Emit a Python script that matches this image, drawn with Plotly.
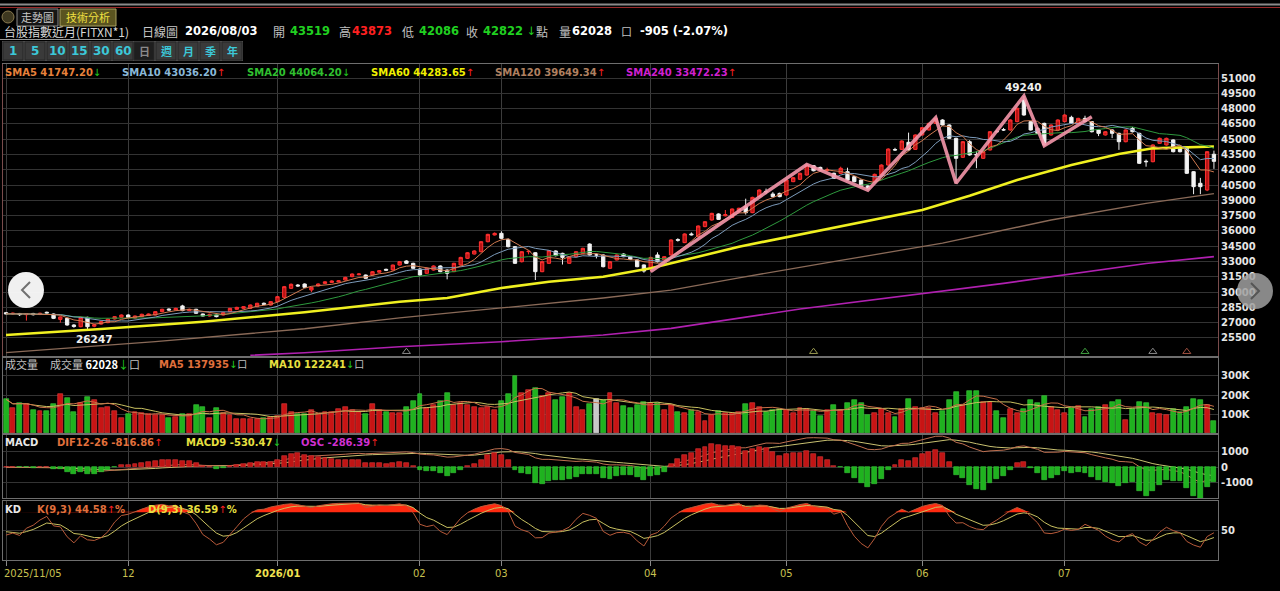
import numpy as np
import pandas as pd
import plotly.graph_objects as go

# 台股指數近月 日線 2025/11/05 ~ 2026/08/03
opens = [
    27980, 27850, 27900, 27780, 27900, 27800, 28020, 27850, 27320, 27420,
    26770, 26600, 27520, 26650, 26860, 27000, 27360, 27520, 27750, 27450,
    27590, 27700, 27750, 28080, 28340, 28240, 28640, 28180, 28310, 27850,
    27650, 27750, 27750, 28080, 28310, 28400, 28400, 28570, 28900, 28730,
    29060, 29480, 30370, 30690, 30790, 30200, 30600, 30850, 30950, 31000,
    31180, 31510, 31700, 31670, 31670, 31950, 32230, 32170, 32650, 33050,
    32820, 32260, 31840, 32160, 32560, 32160, 32000, 32660, 33310, 33730,
    33960, 34940, 35600, 35760, 35170, 34450, 32980, 33960, 33860, 32000,
    32820, 34030, 33800, 32820, 33470, 33800, 34710, 33640, 33640, 32330,
    33150, 33730, 33470, 33150, 32660, 32330, 33640, 33150, 33640, 35150,
    34850, 35700, 35440, 36420, 37070, 37660, 37480, 37330, 37920, 38380,
    37790, 39360, 39880, 39620, 39680, 39520, 40830, 41060, 41480, 42400,
    42230, 41930, 41650, 41650, 41810, 41320, 40990, 40410, 40830, 41480,
    42460, 43980, 44000, 44690, 44000, 45410, 45900, 46550, 46880, 46390,
    45080, 43220, 44750, 43500, 43120, 43940, 45760, 45930, 45900, 46720,
    48840, 46720, 46060, 46550, 45410, 45900, 46720, 47140, 46550, 47040,
    46720, 45900, 45410, 45900, 45570, 44750, 46060, 45570, 42830, 42790,
    44590, 44430, 44920, 44100, 44100, 41810, 40670, 40010, 43519,
]
highs = [
    28050, 27990, 27950, 27920, 27960, 27980, 28080, 27900, 27620, 27480,
    26850, 27600, 27580, 26900, 27160, 27400, 27640, 27800, 27820, 27700,
    27880, 27900, 28120, 28360, 28400, 28460, 28750, 28380, 28360, 27900,
    27880, 27800, 28030, 28450, 28560, 28620, 28780, 28950, 28980, 29120,
    29620, 30600, 30850, 30780, 30850, 30520, 30850, 31060, 31150, 31160,
    31500, 31830, 31850, 31720, 32060, 32160, 32300, 32700, 33050, 33120,
    32880, 32320, 32400, 32620, 32620, 32220, 32880, 33460, 33920, 34100,
    35000, 35720, 35850, 35960, 35250, 34520, 34020, 34080, 33920, 33050,
    34120, 34100, 33860, 33460, 34020, 34350, 34780, 33800, 33700, 33050,
    33700, 33800, 33520, 33200, 32720, 33460, 33900, 33520, 35180, 35280,
    35760, 35850, 36540, 36960, 37780, 37720, 38050, 38200, 38280, 39160,
    39350, 40080, 40150, 39800, 39750, 41060, 41300, 41720, 42520, 42460,
    42300, 42200, 41720, 42300, 42200, 41380, 41050, 40480, 41620, 42530,
    44100, 44150, 44880, 45640, 45470, 46200, 46620, 47100, 46950, 46450,
    45140, 44820, 44900, 43800, 43840, 45800, 45900, 46100, 46950, 48100,
    49240, 46780, 46200, 46620, 46450, 46950, 47440, 47300, 47100, 47300,
    46780, 45960, 45800, 45960, 45630, 45960, 46200, 45630, 43000, 44500,
    45150, 45150, 44980, 44160, 44160, 41870, 41200, 43830, 43873,
]
lows = [
    27800, 27780, 27650, 27200, 27700, 27740, 27880, 27350, 27000, 26700,
    26500, 26550, 26247, 26550, 26800, 26950, 27300, 27480, 27450, 27380,
    27550, 27650, 27700, 28020, 28180, 28200, 28120, 28120, 27860, 27600,
    27600, 27520, 27700, 28020, 28260, 28350, 28350, 28520, 28740, 28680,
    29000, 29420, 30300, 30520, 30400, 30000, 30550, 30800, 30900, 30950,
    31120, 31450, 31650, 31300, 31620, 31900, 32100, 32100, 32600, 32760,
    32280, 31600, 31780, 32100, 31950, 31250, 31950, 32600, 33250, 33680,
    33900, 34880, 35550, 35200, 34380, 32750, 32900, 33700, 31180, 31950,
    32760, 33500, 32700, 32760, 33420, 33750, 33580, 33300, 32420, 32280,
    33100, 33420, 33150, 32430, 31900, 32000, 32900, 33080, 33580, 34950,
    34800, 35550, 35380, 36360, 37000, 37080, 37420, 37280, 37860, 37600,
    37740, 39300, 39600, 39300, 39300, 39460, 40780, 41000, 41420, 41840,
    41900, 41800, 41100, 41580, 40930, 40770, 40280, 40000, 40760, 41420,
    42400, 43850, 43940, 43880, 43940, 45350, 45840, 46480, 46330, 45020,
    40670, 43160, 43380, 42150, 43060, 43880, 45650, 45800, 45840, 46660,
    47300, 45840, 45500, 44360, 45350, 45840, 46660, 46480, 46480, 46660,
    45660, 45300, 45350, 45100, 43950, 44690, 45660, 42560, 42300, 42730,
    44530, 44370, 43700, 43700, 41580, 39600, 39600, 39900, 42086,
]
closes = [
    27860, 27920, 27780, 27860, 27780, 27920, 27950, 27420, 27560, 26770,
    26620, 27520, 26600, 26800, 27100, 27350, 27590, 27750, 27520, 27650,
    27820, 27850, 28080, 28310, 28240, 28400, 28180, 28310, 27920, 27650,
    27820, 27590, 27980, 28400, 28500, 28570, 28730, 28900, 28800, 29060,
    29550, 30530, 30760, 30600, 30465, 30465, 30790, 31000, 31085, 31100,
    31440, 31770, 31770, 31350, 32000, 32100, 32150, 32650, 32980, 32820,
    32330, 31670, 32330, 32560, 32000, 31840, 32820, 33400, 33860, 34030,
    34940, 35660, 35760, 35270, 34450, 32820, 33960, 34000, 32000, 32980,
    34060, 33570, 33400, 33400, 33960, 34290, 33640, 33640, 32490, 32980,
    33640, 33470, 33210, 32490, 32060, 33400, 32980, 33470, 35110, 35080,
    35700, 35620, 36480, 36900, 37720, 37130, 37600, 38150, 38220, 37790,
    39290, 40010, 39830, 39360, 39360, 40990, 41220, 41650, 42460, 41900,
    41970, 41990, 41160, 42140, 40990, 40830, 40340, 40110, 41550, 42460,
    44030, 43940, 44820, 43940, 45410, 46130, 46550, 47040, 46390, 45080,
    43120, 44750, 43450, 43450, 43770, 45730, 45730, 45900, 46880, 48030,
    47370, 45900, 45570, 44430, 46390, 46880, 47370, 46550, 47040, 46720,
    45730, 45570, 45730, 45570, 44750, 45900, 45730, 42630, 42790, 44430,
    45080, 45080, 43770, 43770, 41650, 40340, 40340, 43770, 42822,
]
volume_k = [
    177, 130, 156, 153, 121, 118, 118, 153, 205, 182,
    109, 160, 188, 174, 130, 135, 118, 77, 100, 109,
    104, 100, 95, 95, 77, 86, 98, 98, 147, 139,
    77, 130, 104, 95, 74, 72, 72, 74, 81, 86,
    89, 153, 112, 98, 98, 121, 98, 112, 109, 126,
    139, 121, 109, 100, 153, 121, 112, 104, 104, 139,
    168, 204, 130, 147, 170, 209, 147, 156, 147, 139,
    130, 139, 121, 168, 205, 300, 209, 226, 235, 197,
    209, 174, 188, 212, 139, 121, 151, 179, 174, 212,
    160, 144, 133, 147, 161, 156, 160, 121, 147, 112,
    104, 121, 109, 63, 95, 116, 104, 104, 112, 151,
    156, 139, 109, 121, 126, 121, 104, 133, 126, 116,
    91, 121, 147, 121, 156, 174, 156, 95, 104, 126,
    104, 84, 126, 179, 139, 133, 133, 104, 116, 174,
    214, 147, 221, 221, 165, 165, 116, 81, 126, 104,
    126, 174, 156, 196, 139, 121, 104, 130, 144, 86,
    126, 139, 147, 165, 174, 68, 126, 161, 156, 104,
    98, 95, 126, 112, 139, 179, 174, 147, 62,
]

# month boundaries (bar index) and their axis labels
month_pos = [0, 18, 40, 61, 73, 95, 115, 135, 156]
month_text = ["2025/11/05", "12", "<b>2026/01</b>", "02", "03", "04", "05", "06", "07"]

# long moving averages (need history older than the window)
sma60_pos = [0, 14, 29, 44, 58, 65, 73, 80, 88, 95, 108, 123, 135, 142, 149, 157, 164, 169, 178]
sma60_val = [25790, 26380, 27090, 28020, 29050, 29420, 30400, 31020, 31510, 32330,
             34450, 36410, 38050, 39450, 41000, 42470, 43550, 44100, 44284]
sma120_pos = [0, 22, 44, 58, 73, 88, 98, 108, 123, 138, 154, 168, 178]
sma120_val = [24050, 25130, 26400, 27460, 28440, 29420, 30200, 31400, 33100, 34800,
              37070, 38700, 39649]
sma240_pos = [36, 44, 58, 73, 88, 98, 117, 147, 168, 178]
sma240_val = [23800, 24050, 24640, 25130, 25790, 26440, 28340, 30850, 32800, 33472]

# wave (zigzag) pivots
wave_pos = [95, 118, 127, 137, 140, 150, 153, 160]
wave_val = [32000, 42520, 40000, 47100, 40670, 49240, 44360, 47200]

# small event markers at the bottom of the price panel
mark_pos = [59, 119, 159, 169, 174]
mark_col = ["#8a8a8a", "#9a9a50", "#40a040", "#8a8a8a", "#a05040"]

price_ticks = [25500, 27000, 28500, 30000, 31500, 33000, 34500, 36000, 37500,
               39000, 40500, 42000, 43500, 45000, 46500, 48000, 49500, 51000]

# ---------------- indicators ----------------
n = len(closes)
xi = np.arange(n)
c = pd.Series(closes, dtype=float)
o = pd.Series(opens, dtype=float)
h = pd.Series(highs, dtype=float)
l = pd.Series(lows, dtype=float)
v = pd.Series(volume_k, dtype=float)

sma5 = c.rolling(5, min_periods=1).mean()
sma10 = c.rolling(10, min_periods=1).mean()
sma20 = c.rolling(20, min_periods=1).mean()
vma5 = v.rolling(5, min_periods=1).mean()
vma10 = v.rolling(10, min_periods=1).mean()

dif = c.ewm(span=12, adjust=False).mean() - c.ewm(span=26, adjust=False).mean()
dea = dif.ewm(span=9, adjust=False).mean()
osc = dif - dea

low9 = l.rolling(9, min_periods=1).min()
high9 = h.rolling(9, min_periods=1).max()
rsv = ((c - low9) / (high9 - low9) * 100).fillna(50)
kk, dd = [], []
kp = dp = 50.0
for r in rsv:
    kp = kp * 2 / 3 + r / 3
    dp = dp * 2 / 3 + kp / 3
    kk.append(kp)
    dd.append(dp)
kk = np.array(kk)
dd = np.array(dd)

up = c > o
dn = c < o
vol_col = np.where(up, "#c81414", np.where(dn, "#1fb21f", "#c8c8c8"))
vol_line = np.where(up, "#e84040", np.where(dn, "#40d040", "#f0f0f0"))
osc_col = np.where(osc >= 0, "#c01414", "#1fb21f")
osc_line = np.where(osc >= 0, "#e03a3a", "#3ad03a")

# ---------------- figure ----------------
W, H = 1280, 591


def px(x):
    return x / W


def py(y):
    return 1 - y / H


fig = go.Figure()

fig.add_trace(go.Candlestick(
    x=xi, open=opens, high=highs, low=lows, close=closes,
    increasing=dict(line=dict(color="#ff3030", width=1), fillcolor="#b81414"),
    decreasing=dict(line=dict(color="#f0f0f0", width=1), fillcolor="#f4f4f4"),
    whiskerwidth=0, xaxis="x", yaxis="y", hoverinfo="skip"))

for xs, ys, col, w in [
    (sma240_pos, sma240_val, "#b020b0", 1.6),
    (sma120_pos, sma120_val, "#8a6a58", 1.3),
    (sma60_pos, sma60_val, "#f0f020", 2.6),
    (xi, sma20, "#2e9a3e", 1),
    (xi, sma10, "#7d9cbc", 1),
    (xi, sma5, "#d07a50", 1),
]:
    fig.add_trace(go.Scatter(x=xs, y=ys, mode="lines", line=dict(color=col, width=w),
                             xaxis="x", yaxis="y", hoverinfo="skip"))

fig.add_trace(go.Scatter(x=wave_pos, y=wave_val, mode="lines",
                         line=dict(color="rgba(244,150,170,0.9)", width=3.5),
                         xaxis="x", yaxis="y", hoverinfo="skip"))

fig.add_trace(go.Scatter(x=mark_pos, y=[24150] * len(mark_pos), mode="markers",
                         marker=dict(symbol="triangle-up-open", size=7, color=mark_col,
                                     line=dict(width=1, color=mark_col)),
                         xaxis="x", yaxis="y", hoverinfo="skip"))

# volume
fig.add_trace(go.Bar(x=xi, y=v, width=0.72, marker=dict(color=vol_col, line=dict(color=vol_line, width=0.6)),
                     xaxis="x2", yaxis="y2", hoverinfo="skip"))
fig.add_trace(go.Scatter(x=xi, y=vma10, mode="lines", line=dict(color="#c8c060", width=1),
                         xaxis="x2", yaxis="y2", hoverinfo="skip"))
fig.add_trace(go.Scatter(x=xi, y=vma5, mode="lines", line=dict(color="#c87048", width=1),
                         xaxis="x2", yaxis="y2", hoverinfo="skip"))

# MACD: histogram on its own (overlaid) scale, lines on the labelled scale
fig.add_trace(go.Bar(x=xi, y=osc, width=0.72, marker=dict(color=osc_col, line=dict(color=osc_line, width=0.6)),
                     xaxis="x3", yaxis="y5", hoverinfo="skip"))
fig.add_trace(go.Scatter(x=xi, y=dea, mode="lines", line=dict(color="#c8c070", width=1),
                         xaxis="x3", yaxis="y3", hoverinfo="skip"))
fig.add_trace(go.Scatter(x=xi, y=dif, mode="lines", line=dict(color="#c07050", width=1),
                         xaxis="x3", yaxis="y3", hoverinfo="skip"))

# KD
fig.add_trace(go.Scatter(x=xi, y=[80] * n, mode="lines", line=dict(width=0, color="rgba(0,0,0,0)"),
                         xaxis="x4", yaxis="y4", hoverinfo="skip"))
fig.add_trace(go.Scatter(x=xi, y=np.maximum(np.maximum(kk, dd), 80), mode="lines",
                         line=dict(width=0, color="rgba(0,0,0,0)"), fill="tonexty",
                         fillcolor="#ff2a10", xaxis="x4", yaxis="y4", hoverinfo="skip"))
fig.add_trace(go.Scatter(x=xi, y=dd, mode="lines", line=dict(color="#c8c060", width=1),
                         xaxis="x4", yaxis="y4", hoverinfo="skip"))
fig.add_trace(go.Scatter(x=xi, y=kk, mode="lines", line=dict(color="#b85a3a", width=1),
                         xaxis="x4", yaxis="y4", hoverinfo="skip"))

xdom = [px(3), px(1218)]
xr = [-0.45, n - 0.4]
NUM = "DejaVu Sans, Noto Sans CJK TC"
CJK = "Noto Sans CJK TC, DejaVu Sans"


def xax(anchor, bottom=False):
    return dict(domain=xdom, range=xr, anchor=anchor, showticklabels=False,
                tickvals=month_pos, showgrid=True, gridcolor="#3c3c3c", gridwidth=1,
                zeroline=False, showline=True, mirror=True, linecolor="#6e6e6e",
                ticks="outside" if bottom else "", ticklen=5, tickcolor="#8a8a8a",
                fixedrange=True)


def yax(anchor, dom, rng, tv, tt, lc="#6e6e6e"):
    return dict(domain=dom, range=rng, anchor=anchor, side="right", tickvals=tv, ticktext=tt,
                showgrid=True, gridcolor="#333333", zeroline=False, showline=True, mirror=True,
                linecolor=lc, tickfont=dict(family="DejaVu Sans", size=10, color="#e6e6e6", weight="bold"),
                ticks="", fixedrange=True)


macd_rng = [-1968, 2070]
osc_scale = 3.6

fig.update_layout(
    width=W, height=H, margin=dict(l=0, r=0, t=0, b=0),
    paper_bgcolor="black", plot_bgcolor="black", showlegend=False,
    xaxis=dict(xax("y"), rangeslider=dict(visible=False)),
    xaxis2=xax("y2"), xaxis3=xax("y3"), xaxis4=xax("y4", bottom=True),
    yaxis=yax("x", [py(356), py(64)], [23728, 52373], price_ticks, [str(t) for t in price_ticks], "#7a4c4c"),
    yaxis2=yax("x2", [py(433), py(358)], [0, 394.7], [100, 200, 300], ["100K", "200K", "300K"]),
    yaxis3=yax("x3", [py(498), py(435)], macd_rng, [-1000, 0, 1000], ["-1000", "0", "1000"]),
    yaxis4=yax("x4", [py(559.5), py(500.5)], [0, 100], [50], ["50"]),
    yaxis5=dict(overlaying="y3", anchor="x3", range=[r / osc_scale for r in macd_rng],
                visible=False, showgrid=False, fixedrange=True),
    bargap=0,
)

UP = "<span style='color:#ff2020'>↑</span>"
DN = "<span style='color:#20d020'>↓</span>"
ann = []


def T(x, y, s, color="#d0d0d0", size=10, fam=NUM, anchor="left"):
    ann.append(dict(x=px(x), y=py(y), xref="paper", yref="paper", text=s, showarrow=False,
                    xanchor=anchor, yanchor="middle", font=dict(family=fam, size=size, color=color)))


# header
T(37, 17, "走勢圖", "#c8c8c8", 11, CJK, "center")
T(88, 17, "技術分析", "#f0e040", 11, CJK, "center")
T(2, 31, "台股指數近月(FITXN*1)", "#d8d8d8", 12, CJK)
T(140, 31, "日線圖", "#c8c8c8", 12, CJK)
T(183, 31, "<b>2026/08/03</b>", "#ffffff", 11.5)
T(271, 31, "開", "#c0c0c0", 12, CJK)
T(288, 31, "<b>43519</b>", "#20d020", 11.5)
T(337, 31, "高", "#c0c0c0", 12, CJK)
T(350, 31, "<b>43873</b>", "#ff2020", 11.5)
T(400, 31, "低", "#c0c0c0", 12, CJK)
T(417, 31, "<b>42086</b>", "#20d020", 11.5)
T(464, 31, "收", "#c0c0c0", 12, CJK)
T(481, 31, "<b>42822</b> ↓", "#20d020", 11.5)
T(534, 31, "點", "#c0c0c0", 12, CJK)
T(557, 31, "量", "#c0c0c0", 12, CJK)
T(570, 31, "<b>62028</b>", "#ffffff", 11.5)
T(619, 31, "口", "#c0c0c0", 11, CJK)
T(638, 31, "<b>-905 (-2.07%)</b>", "#ffffff", 11.5)

buttons = ["1", "5", "10", "15", "30", "60", "日", "週", "月", "季", "年"]
btn_cx = [13, 35, 57, 79, 101, 123, 144, 166, 188, 210, 232]
shapes = []
shapes.append(dict(type="rect", xref="paper", yref="paper", x0=px(2), x1=px(243), y0=py(61), y1=py(41),
                   fillcolor="#4a4a4a", line=dict(width=0)))
for b, cx in zip(buttons, btn_cx):
    sel = b == "日"
    shapes.append(dict(type="rect", xref="paper", yref="paper", x0=px(cx - 10), x1=px(cx + 10),
                       y0=py(60), y1=py(42), fillcolor="#1e1e1e" if sel else "#3a3a3a",
                       line=dict(color="#262626", width=1)))
    T(cx, 51, "<b>%s</b>" % b, "#8a8a8a" if sel else "#3cc8d8", 12 if b.isdigit() else 11,
      NUM if b.isdigit() else CJK, "center")

# legends
T(3, 72, "<b>SMA5 41747.20</b>" + DN, "#e8823c")
T(120, 72, "<b>SMA10 43036.20</b>" + UP, "#8ab8d8")
T(245, 72, "<b>SMA20 44064.20</b>" + DN, "#30c030")
T(369, 72, "<b>SMA60 44283.65</b>" + UP, "#f0f000")
T(493, 72, "<b>SMA120 39649.34</b>" + UP, "#b08060")
T(624, 72, "<b>SMA240 33472.23</b>" + UP, "#d020d0")

T(3, 364, "成交量", "#c0c0c0", 11, CJK)
T(48, 364, "成交量 <span style='color:#ffffff'><b>62028</b></span>" + DN + "口", "#c0c0c0", 11, CJK)
T(157, 364, "<b>MA5 137935</b>" + DN + "<span style='color:#c0c0c0'>口</span>", "#e0703c")
T(267, 364, "<b>MA10 122241</b>" + DN + "<span style='color:#c0c0c0'>口</span>", "#e8e040")

T(3, 442, "<b>MACD</b>", "#e8e8e8")
T(55, 442, "<b>DIF12-26 -816.86</b>" + UP, "#e0703c")
T(184, 442, "<b>MACD9 -530.47</b>" + DN, "#e8e040")
T(299, 442, "<b>OSC -286.39</b>" + UP, "#d030d0")

T(3, 509, "<b>KD</b>", "#e8e8e8")
T(35, 509, "<b>K(9,3) 44.58</b>" + UP + "<b>%</b>", "#e0703c")
T(146, 509, "<b>D(9,3) 36.59</b>" + UP + "<b>%</b>", "#e8e040")

# pivot labels
ann.append(dict(x=150, y=49240, xref="x", yref="y", text="<b>49240</b>", showarrow=False,
                yanchor="bottom", xanchor="center", yshift=1,
                font=dict(family="DejaVu Sans", size=10.5, color="#f0f0f0")))
ann.append(dict(x=13, y=26247, xref="x", yref="y", text="<b>26247</b>", showarrow=False,
                yanchor="top", xanchor="center", yshift=-1,
                font=dict(family="DejaVu Sans", size=10.5, color="#f0f0f0")))

# date labels
for i, (p, t) in enumerate(zip(month_pos, month_text)):
    ann.append(dict(x=p, y=py(573), xref="x4", yref="paper", text=t, showarrow=False,
                    xanchor="left" if i == 0 else "center", yanchor="middle", xshift=-4 if i == 0 else 0,
                    font=dict(family="DejaVu Sans", size=10,
                              color="#f0e050" if "<b>" in t else "#c8c050")))

# top frame lines, tabs
shapes += [
    dict(type="line", xref="paper", yref="paper", x0=0, x1=1, y0=py(4.5), y1=py(4.5),
         line=dict(color="#8a8a8a", width=2)),
    dict(type="line", xref="paper", yref="paper", x0=0, x1=1, y0=py(7.5), y1=py(7.5),
         line=dict(color="#9a2a2a", width=1.2)),
    dict(type="circle", xref="paper", yref="paper", x0=px(2), x1=px(14), y0=py(23), y1=py(11),
         fillcolor="#3e3820", line=dict(color="#8a7a50", width=1)),
    dict(type="rect", xref="paper", yref="paper", x0=px(17), x1=px(58), y0=py(26), y1=py(9),
         fillcolor="#151515", line=dict(color="#8a8a8a", width=1)),
    dict(type="rect", xref="paper", yref="paper", x0=px(60), x1=px(116), y0=py(26), y1=py(9),
         fillcolor="#5a5420", line=dict(color="#a8a060", width=1)),
    dict(type="line", xref="paper", yref="paper", x0=0, x1=px(120), y0=py(39.5), y1=py(39.5),
         line=dict(color="#9a9a9a", width=1)),
    # navigation buttons
    dict(type="circle", xref="paper", yref="paper", x0=px(8), x1=px(44), y0=py(308), y1=py(272),
         fillcolor="rgba(250,250,250,0.96)", line=dict(width=0), layer="above"),
    dict(type="path", xref="paper", yref="paper",
         path="M %f %f L %f %f L %f %f" % (px(30), py(282), px(22), py(290), px(30), py(298)),
         line=dict(color="#707070", width=2), layer="above"),
    dict(type="circle", xref="paper", yref="paper", x0=px(1237), x1=px(1273), y0=py(309), y1=py(273),
         fillcolor="rgba(160,160,160,0.85)", line=dict(width=0), layer="above"),
    dict(type="path", xref="paper", yref="paper",
         path="M %f %f L %f %f L %f %f" % (px(1251), py(283), px(1259), py(291), px(1251), py(299)),
         line=dict(color="#555555", width=2), layer="above"),
]

fig.update_layout(annotations=ann, shapes=shapes)
fig.write_html("out.html", config={"displayModeBar": False},
               post_script="document.body.style.margin='0';document.body.style.padding='0';")
